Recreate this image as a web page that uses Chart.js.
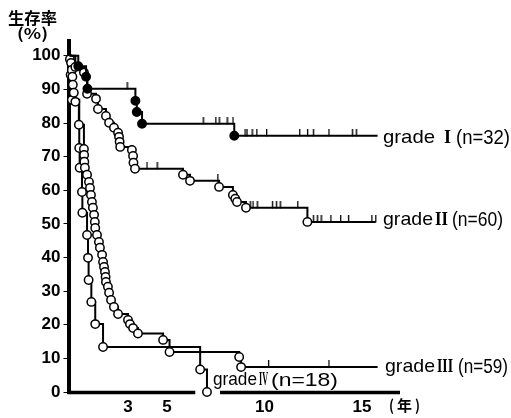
<!DOCTYPE html>
<html><head><meta charset="utf-8">
<script src="https://cdn.jsdelivr.net/npm/chart.js@4"></script>
<style>html,body{margin:0;padding:0;background:#fff;}</style>
</head><body>
<canvas id="c" width="511" height="418" style="width:511px;height:418px;display:block"></canvas>
<script>
// ---- data (years, survival %) ----
const gradeI_time = [0.45, 0.85, 0.92, 3.38, 3.45, 3.72, 8.45];
const gradeI_surv = [96.9, 93.8, 90.2, 86.6, 83.3, 79.8, 76.2];
const gradeI_end = 15.8;
const gradeI_censor = [2.95, 6.85, 7.5, 7.67, 8.08, 8.38, 9.0, 9.1, 9.36, 9.6, 10.1, 11.8, 12.2, 12.5, 13.3, 14.5, 14.7];

const gradeII_time = [0.3, 0.74, 0.9, 1.36, 1.46, 1.87, 2.03, 2.28, 2.49, 2.54, 2.57, 2.6, 3.2, 3.26, 3.28, 3.36, 5.82, 6.18, 7.67, 8.38, 8.5, 8.59, 9.05, 12.2];
const gradeII_surv = [96.7, 95.0, 88.7, 87.2, 84.2, 82.1, 80.1, 78.6, 77.1, 75.9, 74.4, 72.9, 72.0, 70.2, 68.2, 66.4, 64.6, 62.8, 61.0, 58.6, 57.5, 56.5, 54.8, 50.6];
const gradeII_end = 15.7;
const gradeII_censor = [3.97, 4.49, 7.6, 9.26, 9.41, 9.62, 10.4, 10.6, 10.8, 11.7, 12.5, 12.7, 12.9, 13.4, 13.9, 14.3, 15.5, 15.7];

const gradeIII_time = [0.02, 0.08, 0.12, 0.15, 0.17, 0.22, 0.3, 0.48, 0.74, 0.75, 0.76, 0.79, 0.9, 1.0, 1.05, 1.1, 1.15, 1.2, 1.26, 1.3, 1.32, 1.41, 1.51, 1.56, 1.67, 1.72, 1.77, 1.82, 1.85, 1.87, 1.97, 2.03, 2.13, 2.28, 2.49, 3.0, 3.1, 3.26, 3.51, 4.8, 5.13, 8.7, 8.8];
const gradeIII_surv = [99.0, 97.9, 95.8, 93.8, 91.4, 89.0, 86.3, 79.5, 72.3, 70.5, 68.5, 66.7, 64.6, 62.5, 60.7, 58.6, 56.5, 54.8, 52.7, 50.6, 48.8, 46.7, 44.6, 42.9, 40.8, 38.7, 37.2, 35.7, 34.2, 32.7, 31.3, 29.5, 27.4, 25.3, 23.2, 21.4, 20.2, 19.0, 17.4, 15.5, 11.9, 10.4, 7.4];
const gradeIII_end = 15.8;
const gradeIII_censor = [10.2, 13.3];

const gradeIV_time = [0.06, 0.12, 0.5, 0.52, 0.64, 0.66, 0.9, 0.95, 0.98, 1.12, 1.32, 1.72, 6.7, 7.05];
const gradeIV_surv = [94.4, 86.9, 72.6, 66.7, 59.5, 53.3, 46.7, 39.9, 33.3, 26.8, 20.2, 13.4, 6.7, 0];
const gradeIV_end = 7.05;
const gradeIV_censor = [];

const xTickLabels = [3, 5, 10, 15];
const yTickLabels = [0, 10, 20, 30, 40, 50, 60, 70, 80, 90, 100];

// ---- helpers ----
function kmPoints(times, surv, end) {
  const pts = [{x: 0, y: 100}];
  times.forEach((t, i) => pts.push({x: t, y: surv[i]}));
  if (end > times[times.length - 1]) pts.push({x: end, y: surv[surv.length - 1]});
  return pts;
}
function survAt(times, surv, t) {
  let s = 100;
  for (let i = 0; i < times.length; i++) if (times[i] <= t) s = surv[i];
  return s;
}
const tickImg = document.createElement('canvas');
tickImg.width = 3; tickImg.height = 14;
(function(){ const g = tickImg.getContext('2d'); g.fillStyle = '#000'; g.fillRect(1, 0, 1.3, 7.5); })();

function gradeSets(times, surv, end, censor, filled) {
  const pts = kmPoints(times, surv, end);
  const hasEnd = end > times[times.length - 1];
  return [{
    type: 'line', data: pts, stepped: true, borderColor: '#000', borderWidth: 2, fill: false,
    pointRadius: c => (c.dataIndex === 0 || (hasEnd && c.dataIndex === pts.length - 1)) ? 0 : 4.2,
    pointBackgroundColor: filled ? '#000' : '#fff', pointBorderColor: '#000', pointBorderWidth: 1.5,
    clip: false
  }, {
    type: 'scatter', data: censor.map(t => ({x: t, y: survAt(times, surv, t)})),
    pointStyle: tickImg, pointRadius: 5, clip: false
  }];
}

function drawFit(ctx, text, x0, x1, yc, font) {
  ctx.font = font;
  const w = ctx.measureText(text).width;
  ctx.save();
  ctx.translate(x0, yc);
  ctx.scale((x1 - x0) / w, 1);
  ctx.textAlign = 'left'; ctx.textBaseline = 'middle';
  ctx.fillText(text, 0, 0);
  ctx.restore();
}

const gradeLabels = [
  {g: [383, 435], n: 'I',   nx: [444, 451], p: '(n=32)', px: [456, 510], y: 138, ps: 20},
  {g: [383, 433], n: 'II',  nx: [435, 448], p: '(n=60)', px: [452, 503], y: 220, ps: 20},
  {g: [385, 435], n: 'III', nx: [437, 453], p: '(n=59)', px: [458, 508], y: 367, ps: 20},
  {g: [213, 257], n: 'IV',  nx: [259, 268], p: '(n=18)', px: [271, 338], y: 380, ps: 19}
];

const decor = {
  id: 'decor',
  beforeDatasetsDraw(chart) {
    const ctx = chart.ctx, xs = chart.scales.x, a = chart.chartArea;
    ctx.save();
    ctx.strokeStyle = '#000';
    ctx.lineWidth = 4;
    ctx.beginPath(); ctx.moveTo(a.left - 0.5, a.top); ctx.lineTo(a.left - 0.5, a.bottom + 2); ctx.stroke();
    ctx.lineWidth = 3.5;
    ctx.beginPath();
    ctx.moveTo(a.left - 2, a.bottom + 0.5); ctx.lineTo(xs.getPixelForValue(6.45), a.bottom + 0.5);
    ctx.moveTo(xs.getPixelForValue(7.72), a.bottom + 0.5); ctx.lineTo(400, a.bottom + 0.5);
    ctx.stroke();
    ctx.restore();
  },
  afterDraw(chart) {
    const ctx = chart.ctx;
    ctx.save();
    ctx.fillStyle = '#000';
    gradeLabels.forEach(L => {
      drawFit(ctx, 'grade', L.g[0], L.g[1], L.y, '19px "Liberation Sans", Arial, sans-serif');
      drawFit(ctx, L.n, L.nx[0], L.nx[1], L.y, 'bold 19px "Liberation Serif", "Times New Roman", serif');
      drawFit(ctx, L.p, L.px[0], L.px[1], L.y + 0.5, L.ps + 'px "Liberation Sans", Arial, sans-serif');
    });
    drawFit(ctx, '生存率', 8, 57, 18, 'bold 16px "Noto Sans CJK JP", sans-serif');
    drawFit(ctx, '(%)', 17, 48, 33, 'bold 15px "Noto Sans CJK JP", sans-serif');
    drawFit(ctx, '(', 389, 394, 405, 'bold 15px "Noto Sans CJK JP", sans-serif');
    drawFit(ctx, '年', 397, 412, 405, 'bold 15px "Noto Sans CJK JP", sans-serif');
    drawFit(ctx, ')', 415, 420, 405, 'bold 15px "Noto Sans CJK JP", sans-serif');
    ctx.restore();
  }
};

const tickFont = {family: '"Liberation Sans", Arial, sans-serif', size: 17, weight: 'bold'};

new Chart(document.getElementById('c'), {
  data: {
    datasets: [
      ...gradeSets(gradeI_time, gradeI_surv, gradeI_end, gradeI_censor, true),
      ...gradeSets(gradeII_time, gradeII_surv, gradeII_end, gradeII_censor, false),
      ...gradeSets(gradeIII_time, gradeIII_surv, gradeIII_end, gradeIII_censor, false),
      ...gradeSets(gradeIV_time, gradeIV_surv, gradeIV_end, gradeIV_censor, false)
    ]
  },
  options: {
    responsive: false, animation: false, events: [],
    layout: {padding: {left: 0, right: 110, top: 39, bottom: 0}},
    plugins: {legend: {display: false}, tooltip: {enabled: false}},
    scales: {
      x: {
        type: 'linear', min: 0, max: 17,
        afterBuildTicks: s => { s.ticks = xTickLabels.map(v => ({value: v})); },
        afterFit: s => { s.height = 26; },
        grid: {display: false, drawTicks: false},
        border: {display: false},
        ticks: {color: '#000', font: tickFont, padding: 5, maxRotation: 0, autoSkip: false}
      },
      y: {
        type: 'linear', min: 0, max: 105,
        afterBuildTicks: s => { s.ticks = yTickLabels.map(v => ({value: v})); },
        afterFit: s => { s.width = 69.5; },
        grid: {drawOnChartArea: false, drawTicks: true, tickLength: 6, color: '#000', lineWidth: 1},
        border: {display: false},
        ticks: {color: '#000', font: tickFont, padding: 3, autoSkip: false}
      }
    }
  },
  plugins: [decor]
});
</script>
</body></html>
